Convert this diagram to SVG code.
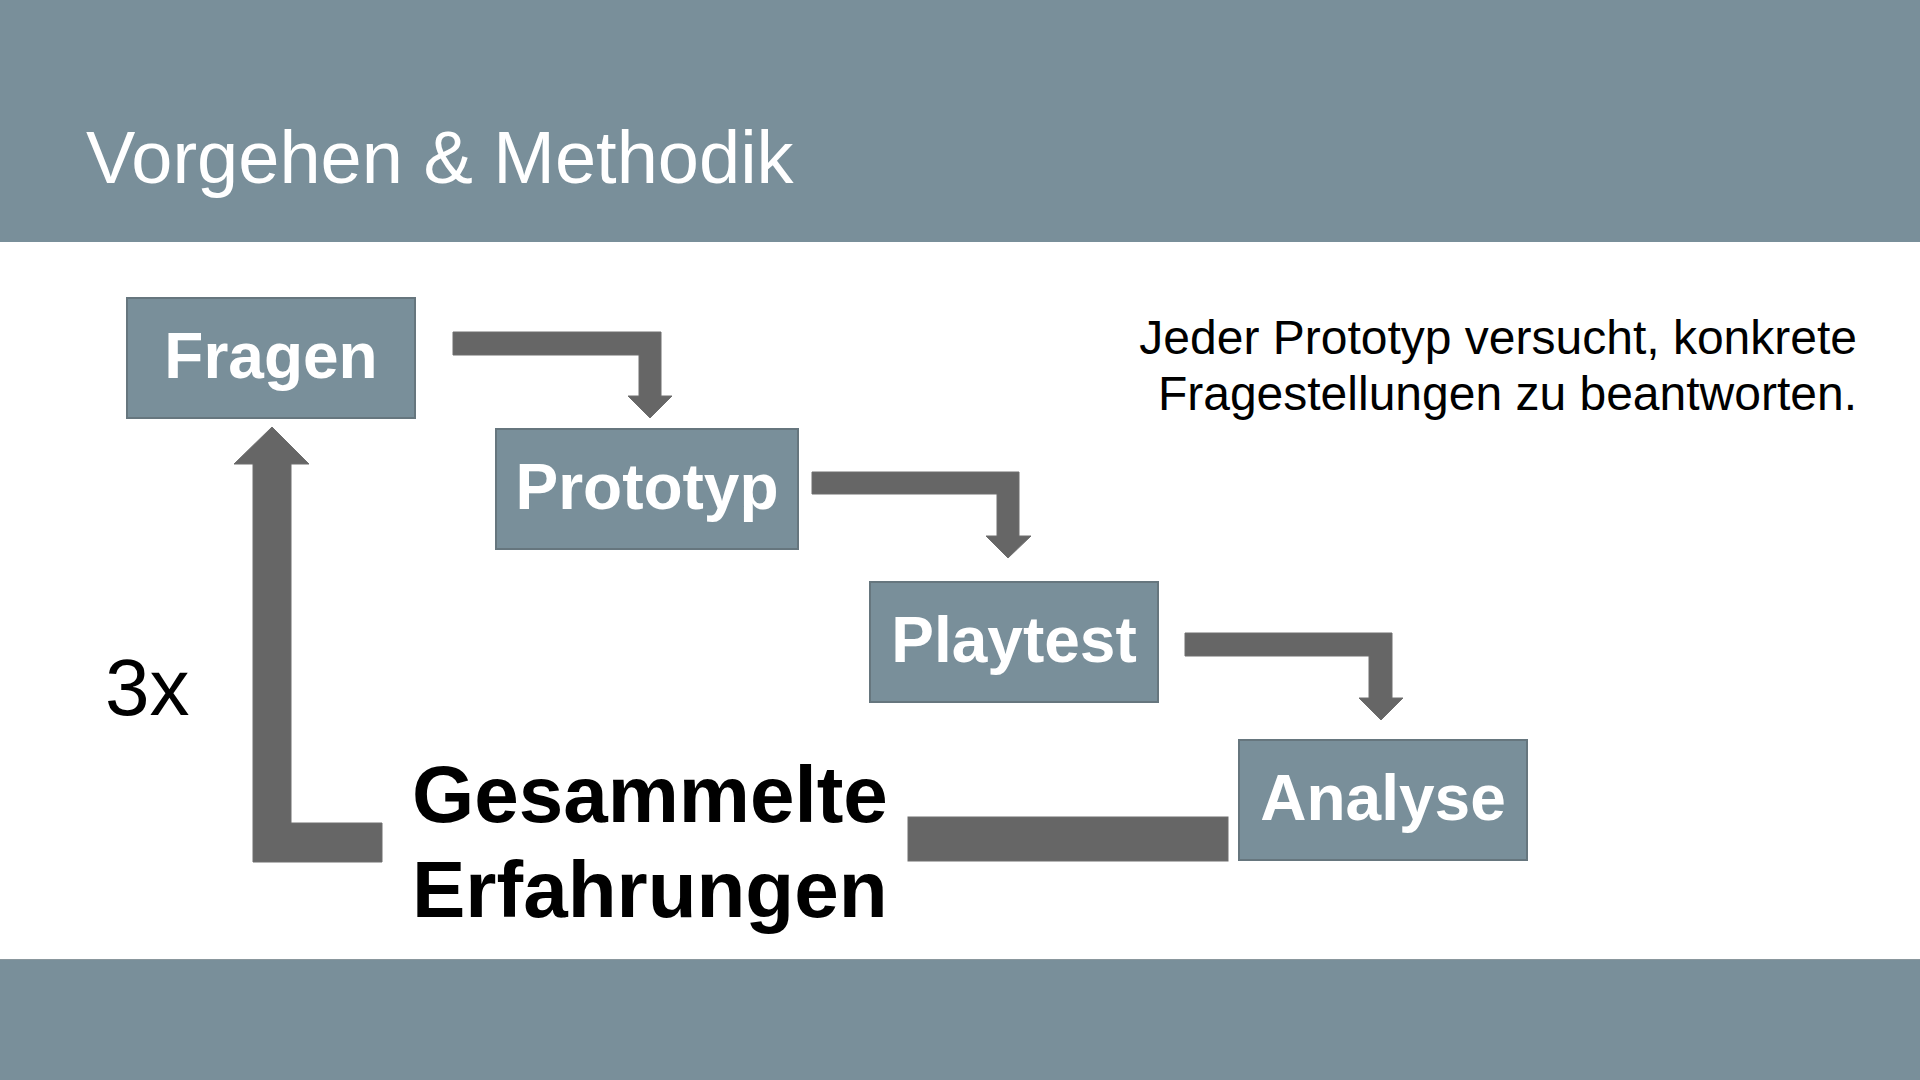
<svg xmlns="http://www.w3.org/2000/svg" width="1920" height="1080" viewBox="0 0 1920 1080">
  <style>
    .band { fill: #798f9a; }
    .box { fill: #798f9a; stroke: #66767e; stroke-width: 2; }
    .lbl { font-family: "Liberation Sans", Arial, sans-serif; font-weight: bold; font-size: 64px; fill: #ffffff; text-anchor: middle; }
    .conn { fill: #666666; stroke: #6e6e6e; stroke-width: 1; }
    .title { font-family: "Liberation Sans", Arial, sans-serif; font-size: 74px; fill: #ffffff; }
    .note { font-family: "Liberation Sans", Arial, sans-serif; font-size: 48px; fill: #000000; text-anchor: end; }
    .big { font-family: "Liberation Sans", Arial, sans-serif; font-weight: bold; font-size: 80px; fill: #000000; }
    .count { font-family: "Liberation Sans", Arial, sans-serif; font-size: 80px; fill: #000000; }
  </style>
  <rect x="0" y="0" width="1920" height="1080" fill="#ffffff"/>
  <rect class="band" x="0" y="0" width="1920" height="242"/>
  <rect class="band" x="0" y="959" width="1920" height="121"/>
  <line x1="0" y1="959.5" x2="1920" y2="959.5" stroke="#8a979d" stroke-width="1"/>
  <text class="title" x="86" y="183">Vorgehen &amp; Methodik</text>

  <g id="connectors">
    <path class="conn" d="M453,332 H661 V396 H672 L650,418 L628,396 H639 V355 H453 Z"/>
    <path class="conn" d="M812,472 H1019 V536 H1031 L1008,558 L986,536 H997 V494 H812 Z"/>
    <path class="conn" d="M1185,633 H1392 V698 H1403 L1381,720 L1359,698 H1369 V656 H1185 Z"/>
    <rect class="conn" x="908" y="817" width="320" height="44"/>
    <path class="conn" d="M382,823 V862 H253 V464 H234 L272,427 L309,464 H291 V823 Z"/>
  </g>

  <g id="node-fragen">
    <rect class="box" x="127" y="298" width="288" height="120"/>
    <text class="lbl" x="271" y="378">Fragen</text>
  </g>
  <g id="node-prototyp">
    <rect class="box" x="496" y="429" width="302" height="120"/>
    <text class="lbl" x="647" y="509">Prototyp</text>
  </g>
  <g id="node-playtest">
    <rect class="box" x="870" y="582" width="288" height="120"/>
    <text class="lbl" x="1014" y="662">Playtest</text>
  </g>
  <g id="node-analyse">
    <rect class="box" x="1239" y="740" width="288" height="120"/>
    <text class="lbl" x="1383" y="820">Analyse</text>
  </g>

  <g id="label-erfahrungen">
    <text class="big" x="412" y="822">Gesammelte</text>
    <text class="big" x="412" y="917">Erfahrungen</text>
  </g>
  <text class="count" x="105" y="715">3x</text>
  <g id="note">
    <text class="note" x="1857" y="354">Jeder Prototyp versucht, konkrete</text>
    <text class="note" x="1857" y="410">Fragestellungen zu beantworten.</text>
  </g>
</svg>
